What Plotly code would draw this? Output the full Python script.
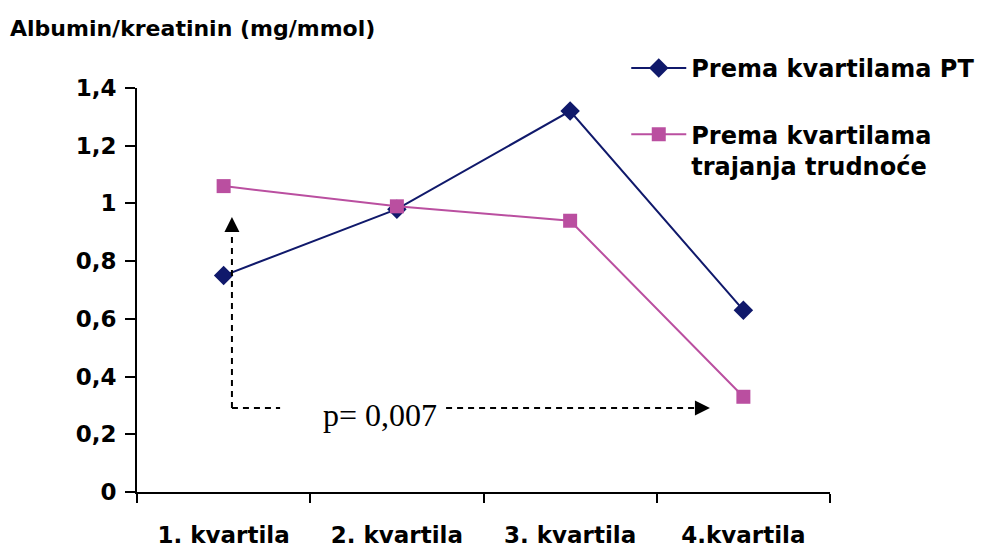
import plotly.graph_objects as go

categories = ["1. kvartila", "2. kvartila", "3. kvartila", "4.kvartila"]
pt_values = [0.75, 0.98, 1.32, 0.63]
trudnoca_values = [1.06, 0.99, 0.94, 0.33]
y_tickvals = [0, 0.2, 0.4, 0.6, 0.8, 1.0, 1.2, 1.4]
y_ticktext = ["0", "0,2", "0,4", "0,6", "0,8", "1", "1,2", "1,4"]
series_names = ["Prema kvartilama PT", "Prema kvartilama<br>trajanja trudnoće"]
p_text = "p= 0,007"

NAVY = "#10196B"
PINK = "#BA4FA0"
SANS = "DejaVu Sans"

fig = go.Figure()
fig.add_trace(go.Scatter(
    x=categories, y=pt_values, mode="lines+markers", name=series_names[0],
    line=dict(color=NAVY, width=2),
    marker=dict(symbol="diamond", size=15, color=NAVY),
    legendgroup="a", cliponaxis=False))
fig.add_trace(go.Scatter(
    x=categories, y=trudnoca_values, mode="lines+markers", name=series_names[1],
    line=dict(color=PINK, width=2),
    marker=dict(symbol="square", size=14, color=PINK),
    legendgroup="b", cliponaxis=False))

dash = "6px,5px"
fig.add_shape(type="line", x0=0.048, x1=0.048, y0=0.291, y1=0.91,
              line=dict(color="black", width=2, dash=dash))
fig.add_shape(type="line", x0=0.048, x1=0.326, y0=0.291, y1=0.291,
              line=dict(color="black", width=2, dash=dash))
fig.add_shape(type="line", x0=1.284, x1=2.74, y0=0.291, y1=0.291,
              line=dict(color="black", width=2, dash=dash))
fig.add_annotation(x=0.048, y=0.953, ax=0, ay=14,
                   text="", showarrow=True, arrowhead=2, arrowsize=2,
                   arrowwidth=1.5, arrowcolor="black")
fig.add_annotation(x=2.807, y=0.291, ax=-14, ay=0,
                   text="", showarrow=True, arrowhead=2, arrowsize=2,
                   arrowwidth=1.5, arrowcolor="black")
fig.add_annotation(x=0.903, y=0.267, text=p_text, showarrow=False,
                   font=dict(family="Liberation Serif", size=32, color="black"))

fig.update_layout(
    width=984, height=550,
    margin=dict(l=137, r=154, t=88, b=58, autoexpand=False),
    paper_bgcolor="white", plot_bgcolor="white",
    title=dict(text="Albumin/kreatinin (mg/mmol)", x=10/984, xref="container",
               xanchor="left", y=1-28/550, yref="container", yanchor="middle",
               font=dict(family=SANS, size=22, color="black", weight="bold")),
    legend=dict(x=0.706, y=1.104, xanchor="left", yanchor="top",
                font=dict(family=SANS, size=24, color="black", weight="bold"),
                valign="top", tracegroupgap=32, itemwidth=55,
                bgcolor="rgba(0,0,0,0)"),
    showlegend=True,
)
fig.update_xaxes(
    type="category", range=[-0.5, 3.5], tickson="boundaries",
    ticks="outside", ticklen=9, tickwidth=2, tickcolor="black",
    showline=True, linecolor="black", linewidth=2, showgrid=False,
    tickfont=dict(family=SANS, size=23, color="black", weight="bold"),
    ticklabelstandoff=21, automargin=False, fixedrange=True)
fig.update_yaxes(
    range=[0, 1.4], tickvals=y_tickvals, ticktext=y_ticktext,
    ticks="outside", ticklen=10, tickwidth=2, tickcolor="black",
    showline=True, linecolor="black", linewidth=2, showgrid=False,
    zeroline=False,
    tickfont=dict(family=SANS, size=23, color="black", weight="bold"),
    ticklabelstandoff=4, automargin=False, fixedrange=True)

fig.write_html("out.html", config={"displayModeBar": False},
               post_script="document.body.style.margin='0';")
